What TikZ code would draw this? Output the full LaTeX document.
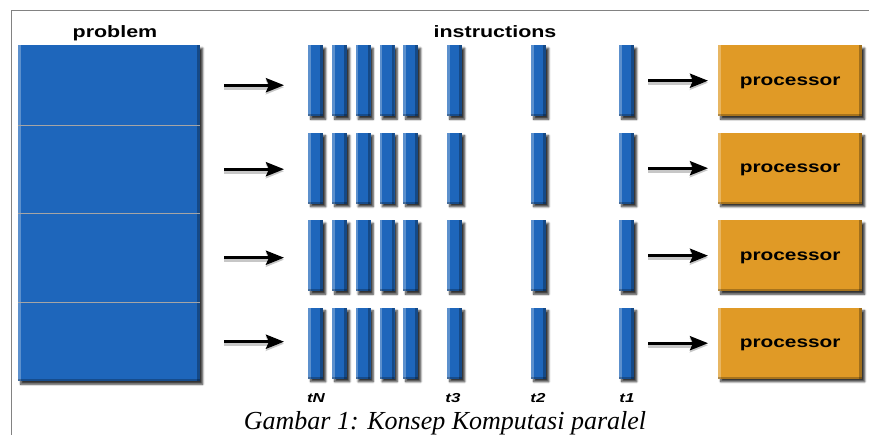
\documentclass[tikz,border=0pt]{standalone}
\usepackage{fontspec}
\setmainfont{Liberation Serif}
\newfontfamily\lblfont[FakeStretch=1.3]{Liberation Sans}
\usetikzlibrary{arrows.meta,shadows.blur}
\definecolor{instblue}{RGB}{30,102,187}
\definecolor{procorange}{RGB}{224,154,38}
\definecolor{divgray}{RGB}{165,165,165}
\definecolor{framegray}{RGB}{130,130,130}
\begin{document}
\begin{tikzpicture}[x=1pt,y=-1pt,
  boxshadow/.style={blur shadow={shadow xshift=2.5pt,shadow yshift=-3pt,shadow blur steps=6,shadow opacity=80,shadow blur radius=2pt}},
  edgeshade/.style={path picture={
    \fill[white,opacity=0.28] (path picture bounding box.north west) rectangle ([xshift=2.5pt]path picture bounding box.south west);
    \fill[black,opacity=0.28] ([xshift=-3pt]path picture bounding box.north east) rectangle (path picture bounding box.south east);
    \fill[black,opacity=0.25] ([yshift=2pt]path picture bounding box.south west) rectangle (path picture bounding box.south east);
  }},
  bar/.style={fill=instblue, draw=none, minimum width=15pt, minimum height=71pt, anchor=north west, inner sep=0pt, boxshadow, edgeshade},
  proc/.style={fill=procorange, draw=none, minimum width=144pt, minimum height=71pt, inner sep=0pt, boxshadow, edgeshade,
    text depth=0pt, font=\lblfont\bfseries\fontsize{16}{16}\selectfont},
  bigbox/.style={fill=instblue, draw=none, minimum width=182pt, minimum height=336pt, anchor=north west, inner sep=0pt, boxshadow, edgeshade},
  part/.style={draw=none, minimum width=182pt, anchor=north west, inner sep=0pt},
  divider/.style={divgray, line width=1.6pt},
  title/.style={font=\lblfont\bfseries\fontsize{16.5}{16.5}\selectfont, anchor=base, inner sep=0pt},
  tlabel/.style={font=\lblfont\bfseries\itshape\fontsize{13}{13}\selectfont, anchor=base, inner sep=0pt},
  arr/.style={line width=3.2pt, -{Stealth[length=18pt,width=14pt,inset=3pt]},
    preaction={draw=black, opacity=0.22, line width=5pt, transform canvas={yshift=-2pt}}},
  caption/.style={font=\itshape\fontsize{26}{26}\selectfont, anchor=base, inner sep=0pt}
]
\useasboundingbox (0,0) rectangle (869,435);
\clip (0,0) rectangle (869,435);

% page frame
\draw[framegray, line width=0.8pt] (11,435) -- (11,10) -- (869,10);

% problem
\node[title] (ptitle) at (115,38) {problem};
\node[bigbox] (prob) at (18,45) {};
\node[part, minimum height=80pt] (p1) at (18,45) {};
\node[part, minimum height=88pt] (p2) at (18,125) {};
\node[part, minimum height=89pt] (p3) at (18,213) {};
\node[part, minimum height=79pt] (p4) at (18,302) {};
\draw[divider] (p1.south west) -- (p1.south east);
\draw[divider] (p2.south west) -- (p2.south east);
\draw[divider] (p3.south west) -- (p3.south east);

% instructions
\node[title] (ititle) at (495,38) {instructions};
\foreach \r/\y in {1/45,2/132.5,3/220,4/307.5}{
  \foreach \c/\x in {1/308,2/332,3/355.5,4/379.5,5/403,6/447,7/531,8/619}{
    \node[bar] (b\r\c) at (\x,\y) {};
  }
  \node[proc, anchor=north west] (q\r) at (718,\y) {processor};
  \draw[arr, shorten <=24pt, shorten >=24pt] (p\r.east) -- (p\r.east -| b\r1.west);
  \draw[arr, shorten <=14pt, shorten >=10pt] (q\r.west -| b\r8.east) -- (q\r.west);
}

% time labels
\node[tlabel] (lN) at (316,402) {tN};
\node[tlabel] (l3) at (453,402) {t3};
\node[tlabel] (l2) at (538,402) {t2};
\node[tlabel] (l1) at (627,402) {t1};

% caption
\node[caption] (cap) at (445,429) {Gambar 1: Konsep Komputasi paralel};
\end{tikzpicture}
\end{document}
